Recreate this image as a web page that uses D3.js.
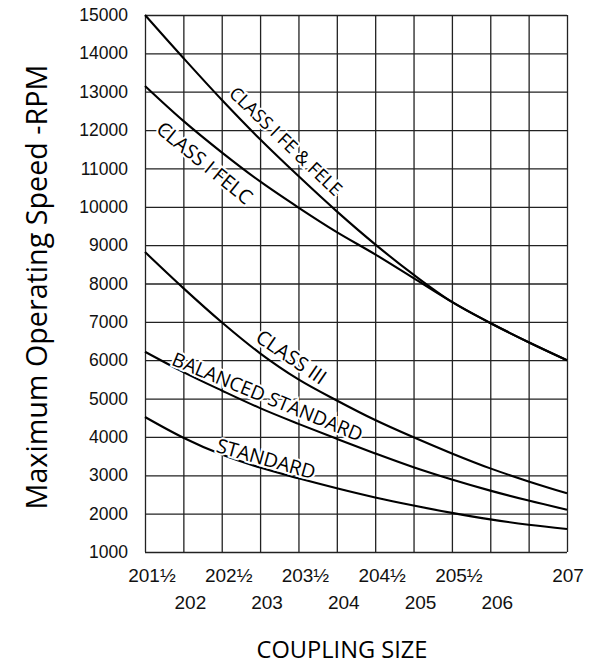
<!DOCTYPE html>
<html>
<head>
<meta charset="utf-8">
<script src="https://cdn.jsdelivr.net/npm/d3@7"></script>
<style>
  body { margin: 0; background: #fff; }
</style>
</head>
<body>
<div id="chart"></div>
<script>
// coupling sizes (one value per vertical grid line)
const sizes = [201.5, 202, 202.5, 203, 203.5, 204, 204.5, 205, 205.5, 206, 206.5, 207];
// x labels, upper row and lower row
const upperRowTicks = [201.5, 202.5, 203.5, 204.5, 205.5, 207];
const lowerRowTicks = [202, 203, 204, 205, 206];
// y ticks (RPM)
const rpmTicks = [1000, 2000, 3000, 4000, 5000, 6000, 7000, 8000, 9000, 10000, 11000, 12000, 13000, 14000, 15000];

// max speed per size
const classIFeFele = [15000, 13880, 12790, 11760, 10800, 9880, 9020, 8230, 7520, 6970, 6470, 6000];
const classIFelc = [13150, 12240, 11420, 10660, 9980, 9340, 8760, 8140, 7520, 6970, 6470, 6000];
const classIII = [8820, 7880, 6990, 6180, 5500, 4950, 4440, 3990, 3570, 3180, 2840, 2530];
const balancedStandard = [6220, 5690, 5210, 4750, 4340, 3950, 3570, 3210, 2890, 2600, 2340, 2100];
const standard = [4520, 3980, 3540, 3200, 2920, 2660, 2420, 2210, 2020, 1850, 1710, 1600];

const seriesNames = ["CLASS I FE & FELE", "CLASS I FELC", "CLASS III", "BALANCED STANDARD", "STANDARD"];
const seriesValues = [classIFeFele, classIFelc, classIII, balancedStandard, standard];

// where each curve label sits (coupling size), and its vertical offset / length in px
const labelAt = [203.34, 202.28, 203.41, 203.1, 203.08];
const labelDy = [-23.5, 24, -18, -15, -11];
const labelLength = [148, 117, 80, 204, 102];

function drawChart(htmlId) {
    const width = 602;
    const height = 666;
    const marginTop = 15;
    const marginRight = 35;
    const marginBottom = 114;
    const marginLeft = 145;

    const x = d3.scaleLinear()
        .domain([d3.min(sizes), d3.max(sizes)])
        .range([marginLeft, width - marginRight]);

    const y = d3.scaleLinear()
        .domain([d3.min(rpmTicks), d3.max(rpmTicks)])
        .range([height - marginBottom, marginTop]);

    const svg = d3.select(htmlId).append("svg")
        .attr("width", width)
        .attr("height", height)
        .attr("viewBox", [0, 0, width, height]);

    // grille verticale
    svg.append("g")
        .attr("transform", `translate(0,${height - marginBottom})`)
        .call(d3.axisBottom(x).tickValues(sizes).tickSize(-(height - marginBottom - marginTop)).tickFormat(""))
        .call(g => g.select(".domain").remove())
        .call(g => g.selectAll("line").attr("stroke", "#222").attr("stroke-width", 1.3));

    // grille horizontale + labels y
    svg.append("g")
        .attr("transform", `translate(${marginLeft},0)`)
        .call(d3.axisLeft(y).tickValues(rpmTicks).tickFormat(d3.format("d"))
            .tickSize(-(width - marginLeft - marginRight)).tickPadding(17))
        .call(g => g.select(".domain").remove())
        .call(g => g.selectAll("line").attr("stroke", "#222").attr("stroke-width", 1.3))
        .call(g => g.selectAll("text")
            .attr("fill", "#111")
            .attr("style", "font: 17.5px 'Liberation Sans', Arial, sans-serif;"));

    const fmt = d => Number.isInteger(d) ? String(d) : Math.floor(d) + "\u00bd";

    // labels x sur deux rangées
    const rows = [[upperRowTicks, 582], [lowerRowTicks, 609]];
    rows.forEach(([ticks, yPos]) => {
        svg.append("g")
            .selectAll("text")
            .data(ticks)
            .join("text")
            .attr("x", d => x(d) + (d === d3.max(sizes) ? 1 : 7))
            .attr("y", yPos)
            .attr("text-anchor", "middle")
            .attr("fill", "#111")
            .attr("style", "font: 19px 'Liberation Sans', Arial, sans-serif;")
            .text(fmt);
    });

    // courbes
    const line = d3.line()
        .x((d, i) => x(sizes[i]))
        .y(d => y(d))
        .curve(d3.curveCatmullRom.alpha(0.5));

    svg.append("g")
        .selectAll("path")
        .data(seriesValues)
        .join("path")
        .attr("fill", "none")
        .attr("stroke", "#000")
        .attr("stroke-width", 2.1)
        .attr("d", line);

    // ajuste la taille de police pour une longueur donnée
    function fitText(sel, target) {
        sel.attr("font-size", 20);
        const len = sel.node().getComputedTextLength();
        sel.attr("font-size", 20 * target / len);
    }

    // labels des courbes, tournés selon la pente
    seriesNames.forEach((name, i) => {
        const vals = seriesValues[i];
        const at = labelAt[i];
        const k = Math.min(sizes.length - 2, d3.bisectRight(sizes, at) - 1);
        const t = (at - sizes[k]) / (sizes[k + 1] - sizes[k]);
        const v = vals[k] + t * (vals[k + 1] - vals[k]);
        const angle = Math.atan2(y(vals[k + 1]) - y(vals[k]), x(sizes[k + 1]) - x(sizes[k])) * 180 / Math.PI;
        const cx = x(at);
        const cy = y(v) + labelDy[i];
        const label = svg.append("text")
            .attr("transform", `translate(${cx},${cy}) rotate(${angle})`)
            .attr("text-anchor", "middle")
            .attr("dominant-baseline", "central")
            .attr("font-family", "'Open Sans', sans-serif")
            .attr("fill", "#000")
            .attr("stroke", "#fff")
            .attr("stroke-width", 4)
            .attr("paint-order", "stroke")
            .text(name);
        fitText(label, labelLength[i]);
    });

    // titre axe y
    const titleY = svg.append("text")
        .attr("transform", `translate(47,${marginTop + 272}) rotate(-90)`)
        .attr("text-anchor", "middle")
        .attr("font-family", "'Open Sans', sans-serif")
        .attr("fill", "#000")
        .text("Maximum Operating Speed -RPM");
    fitText(titleY, 445);

    // titre axe x
    const titleX = svg.append("text")
        .attr("x", 342)
        .attr("y", 658)
        .attr("text-anchor", "middle")
        .attr("font-family", "'Open Sans', sans-serif")
        .attr("fill", "#000")
        .text("COUPLING SIZE");
    fitText(titleX, 171);
}

drawChart("#chart");
</script>
</body>
</html>
